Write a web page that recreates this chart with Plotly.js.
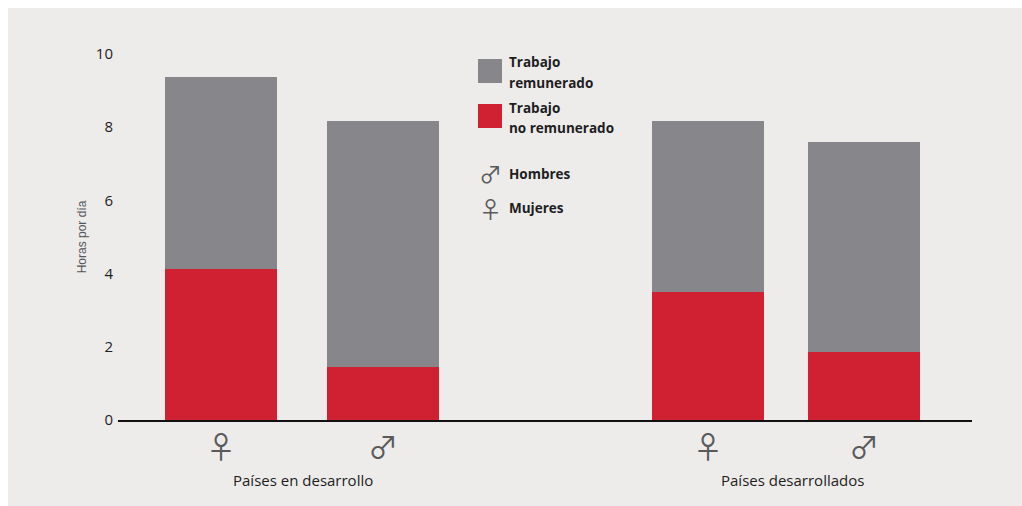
<!DOCTYPE html>
<html lang="es">
<head>
<meta charset="utf-8">
<script src="https://cdn.plot.ly/plotly-3.0.1.min.js"></script>
<style>
  html, body { margin: 0; padding: 0; background: #ffffff; overflow: hidden; }
  #chart { position: absolute; left: 8px; top: 8px; width: 1014px; height: 498px; }
</style>
</head>
<body>
<div id="chart"></div>
<script>
// Horas diarias de trabajo por sexo y grupo de países
const sexSymbols = ['♀', '♂', '♀', '♂'];
const unpaidHours = [4.13, 1.45, 3.5, 1.86];
const paidHours = [5.24, 6.72, 4.67, 5.74];
const yTicks = [0, 2, 4, 6, 8, 10];

// Posiciones de las barras sobre el eje horizontal
const barSlots = [221, 383, 708, 864];
const barWidth = 112;

const FONT = '"Open Sans", Lato, sans-serif';
const SYMBOL_FONT = '"Noto Sans CJK SC", sans-serif';
const TEXT = '#1d1d22';
const GREY = '#87868b';
const RED = '#cf2132';
const SYMBOL = '#5a5a5a';

const common = { type: 'bar', x: barSlots, width: barWidth, hoverinfo: 'y', marker: { line: { width: 0 } } };
const traces = [
  Object.assign({}, common, { name: 'Trabajo no remunerado', y: unpaidHours, marker: { color: RED } }),
  Object.assign({}, common, { name: 'Trabajo remunerado', y: paidHours, marker: { color: GREY } })
];

// Leyenda dibujada a mano, referida al área del gráfico
const P = (x) => (x - 118) / 854;
const Q = (y) => 1 - (y - 54) / 366;
const swatch = (x0, y0, x1, y1, color) => ({
  type: 'rect', xref: 'paper', yref: 'paper', x0: P(x0), x1: P(x1), y0: Q(y1), y1: Q(y0),
  fillcolor: color, line: { width: 0 }
});
const note = (x, y, text, opts) => Object.assign({
  xref: 'paper', yref: 'paper', x: P(x), y: Q(y), text: text, showarrow: false,
  xanchor: 'left', yanchor: 'middle', align: 'left',
  borderpad: 0,
  font: { family: FONT, size: 13.5, color: TEXT }
}, opts || {});
const symbolNote = (x, y, text) => note(x, y, text, {
  xanchor: 'center', font: { family: SYMBOL_FONT, size: 23, color: SYMBOL }
});

const layout = {
  width: 1014,
  height: 498,
  margin: { l: 110, r: 50, t: 46, b: 86 },
  paper_bgcolor: '#edecea',
  plot_bgcolor: '#edecea',
  barmode: 'stack',
  showlegend: false,
  font: { family: FONT, color: TEXT },
  xaxis: {
    range: [118, 972],
    tickmode: 'array',
    tickvals: barSlots,
    ticktext: sexSymbols,
    tickfont: { family: SYMBOL_FONT, size: 30, color: SYMBOL },
    ticks: '',
    ticklen: 0,
    showgrid: false,
    zeroline: false,
    showline: true,
    linecolor: '#111111',
    linewidth: 2
  },
  yaxis: {
    range: [0, 10],
    tickmode: 'array',
    tickvals: yTicks,
    ticks: '',
    ticklabelstandoff: 4,
    tickfont: { family: FONT, size: 15, color: TEXT },
    showgrid: false,
    zeroline: false,
    showline: false,
    title: {
      text: 'Horas por día',
      font: { family: '"Liberation Sans Narrow", "Liberation Sans", sans-serif', size: 12, color: '#55555a' },
      standoff: 6
    }
  },
  shapes: [
    swatch(478, 59, 502, 83, GREY),
    swatch(478, 104, 502, 128, RED)
  ],
  annotations: [
    note(508, 62, '<b>Trabajo</b>'),
    note(508, 83, '<b>remunerado</b>'),
    note(508, 108, '<b>Trabajo</b>'),
    note(508, 128, '<b>no remunerado</b>'),
    note(508, 174, '<b>Hombres</b>'),
    note(508, 208, '<b>Mujeres</b>'),
    symbolNote(490, 173, '♂'),
    symbolNote(490, 208, '♀'),
    note(303, 480, 'Países en desarrollo', { xanchor: 'center', font: { family: FONT, size: 15, color: TEXT } }),
    note(792, 480, 'Países desarrollados', { xanchor: 'center', font: { family: FONT, size: 15, color: TEXT } })
  ]
};

Plotly.newPlot('chart', traces, layout, { displayModeBar: false, responsive: false });
</script>
</body>
</html>
